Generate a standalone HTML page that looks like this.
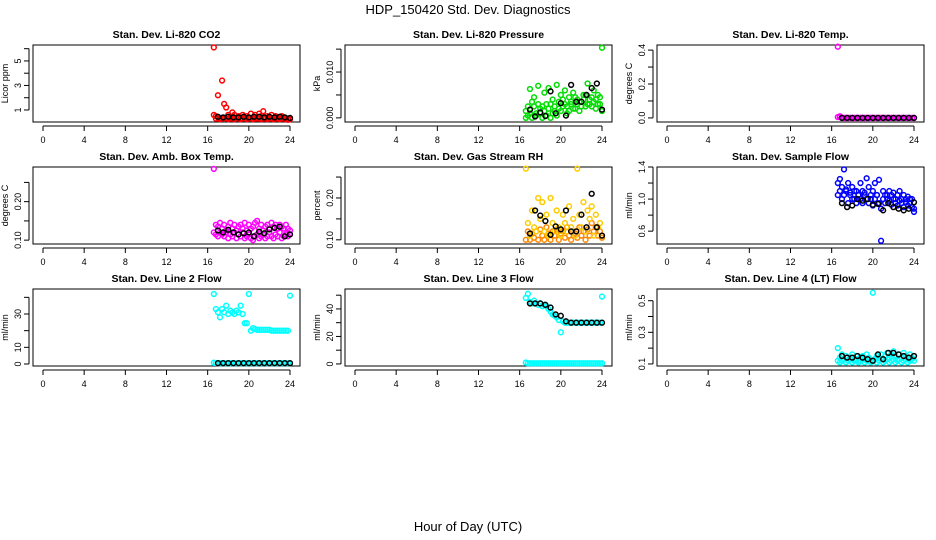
<!DOCTYPE html>
<html><head><meta charset="utf-8"><style>
html,body{margin:0;padding:0;background:#fff;}
svg{display:block;font-family:"Liberation Sans",Arial,sans-serif;}
</style></head><body>
<svg id="chart" width="936" height="540" viewBox="0 0 936 540" xmlns="http://www.w3.org/2000/svg">
<text x="468" y="14" text-anchor="middle" font-size="13">HDP_150420  Std. Dev. Diagnostics</text>
<text x="468" y="531" text-anchor="middle" font-size="13">Hour of Day (UTC)</text>
</svg>
<script>
const hours = [16.6,16.8,17.0,17.2,17.4,17.6,17.8,18.0,18.2,18.4,18.6,18.8,19.0,19.2,19.4,19.6,19.8,20.0,20.2,20.4,20.6,20.8,21.0,21.2,21.4,21.6,21.8,22.0,22.2,22.4,22.6,22.8,23.0,23.2,23.4,23.6,23.8,24.0];
const blackHours = [17.0,17.5,18.0,18.5,19.0,19.5,20.0,20.5,21.0,21.5,22.0,22.5,23.0,23.5,24.0];
const xTicks = [0,4,8,12,16,20,24];

const co2A = [6.1,0.5,2.2,0.3,3.4,1.5,1.2,0.6,0.3,0.8,0.6,0.4,0.5,0.3,0.6,0.4,0.5,0.3,0.7,0.4,0.6,0.3,0.7,0.5,0.9,0.3,0.5,0.4,0.6,0.3,0.5,0.4,0.3,0.5,0.4,0.3,0.2,0.3];
const co2B = [0.6,0.3,0.4,0.25,0.3,0.35,0.3,0.25,0.4,0.3,0.25,0.35,0.3,0.25,0.3,0.35,0.25,0.3,0.35,0.25,0.3,0.35,0.3,0.25,0.3,0.35,0.25,0.3,0.35,0.25,0.3,0.35,0.25,0.3,0.35,0.25,0.3,0.25];
const co2K = [0.45,0.4,0.45,0.4,0.4,0.45,0.4,0.45,0.45,0.4,0.45,0.4,0.45,0.4,0.35];

const presA = [0,0.0025,0.0063,0,0.0045,0.001,0.007,0.002,0,0.0055,0.003,0.0065,0,0.004,0.0015,0.0072,0.0035,0.005,0.0025,0.006,0.001,0.0045,0.003,0.0055,0.002,0.004,0.0015,0.0035,0.005,0.0025,0.0075,0.003,0.0045,0.006,0.002,0.005,0.003,0.0153];
const presB = [0.0015,0.0005,0.001,0.0035,0.0025,0.0005,0.003,0.001,0.0025,0.0015,0.0005,0.002,0.003,0.001,0.0025,0.0005,0.002,0.0015,0.004,0.003,0.0025,0.0015,0.0035,0.002,0.0045,0.003,0.0035,0.0025,0.004,0.005,0.003,0.004,0.0025,0.0035,0.004,0.003,0.0045,0.0015];
const presK = [0.0018,0.0003,0.0012,0.0004,0.0058,0.001,0.0032,0.0005,0.0072,0.0035,0.0035,0.005,0.0065,0.0075,0.0018];

const tempA = [0.42,0.01,0,0,0,0,0,0,0,0,0,0,0,0,0,0,0,0,0,0,0,0,0,0,0,0,0,0,0,0,0,0,0,0,0,0,0,0];
const tempB = [0.005,0.005,0,0,0,0,0,0,0,0,0,0,0,0,0,0,0,0,0,0,0,0,0,0,0,0,0,0,0,0,0,0,0,0,0,0,0,0];
const tempK = [0,0,0,0,0,0,0,0,0,0,0,0,0,0,0];

const ambA = [0.285,0.14,0.135,0.145,0.13,0.14,0.125,0.135,0.145,0.13,0.14,0.125,0.135,0.14,0.13,0.145,0.125,0.14,0.13,0.135,0.145,0.15,0.13,0.14,0.125,0.135,0.14,0.13,0.145,0.135,0.14,0.13,0.14,0.135,0.13,0.14,0.13,0.125];
const ambB = [0.12,0.115,0.11,0.12,0.115,0.11,0.12,0.105,0.115,0.11,0.12,0.105,0.115,0.11,0.12,0.105,0.11,0.115,0.105,0.1,0.11,0.115,0.105,0.11,0.115,0.105,0.11,0.12,0.11,0.105,0.115,0.11,0.12,0.105,0.11,0.115,0.11,0.115];
const ambK = [0.125,0.12,0.127,0.12,0.115,0.118,0.12,0.11,0.122,0.118,0.128,0.132,0.135,0.11,0.115];

const rhA = [0.27,0.14,0.11,0.17,0.13,0.12,0.2,0.15,0.19,0.12,0.16,0.11,0.2,0.14,0.12,0.17,0.13,0.11,0.16,0.14,0.12,0.18,0.13,0.15,0.11,0.27,0.16,0.13,0.19,0.12,0.17,0.15,0.18,0.11,0.16,0.13,0.14,0.11];
const rhB = [0.1,0.12,0.1,0.115,0.105,0.12,0.1,0.125,0.11,0.1,0.13,0.115,0.1,0.12,0.11,0.125,0.1,0.115,0.12,0.105,0.13,0.11,0.1,0.12,0.115,0.105,0.13,0.11,0.12,0.1,0.125,0.11,0.14,0.12,0.13,0.11,0.12,0.105];
const rhK = [0.115,0.17,0.158,0.145,0.112,0.132,0.125,0.17,0.12,0.12,0.16,0.13,0.21,0.13,0.11];

const flowA = [1.2,1.25,1.15,1.37,1.1,1.2,1.05,1.15,1.0,1.1,1.05,1.2,1.1,1.05,1.26,1.15,1.0,1.1,1.2,1.05,1.24,0.48,1.1,1.05,1.0,1.1,1.05,1.08,1.0,1.05,1.1,1.0,1.05,1.0,1.03,1.0,1.0,0.84];
const flowB = [1.05,1.1,1.0,1.05,1.12,0.95,1.08,1.0,1.1,0.95,1.05,1.0,0.95,1.08,1.0,0.95,1.05,0.92,1.0,1.05,0.95,0.88,1.0,0.95,1.05,0.98,0.93,1.0,0.95,0.92,0.98,0.95,0.9,0.96,0.92,0.95,0.9,0.88];
const flowK = [0.95,0.9,0.92,1.0,0.98,1.0,0.93,0.94,0.86,0.95,0.9,0.88,0.86,0.88,0.96];

const l2A = [42,33,31,28,33,31,35,30,32,31,30,32,31,35,30,24.5,24.5,42,20,21.5,21,20.5,20.5,20.5,20.5,20.5,20.5,20.5,20,20,20,20,20,20,20,20,20,41];
const l2B = [0.8,0.6,0.5,0.5,0.5,0.5,0.5,0.5,0.5,0.5,0.5,0.5,0.5,0.5,0.5,0.5,0.5,0.5,0.5,0.5,0.5,0.5,0.5,0.5,0.5,0.5,0.5,0.5,0.5,0.5,0.5,0.5,0.5,0.5,0.5,0.5,0.5,0.5];
const l2K = [0.5,0.5,0.5,0.5,0.5,0.5,0.5,0.5,0.5,0.5,0.5,0.5,0.5,0.5,0.5];

const l3A = [1,0.5,0.5,0.5,0.5,0.5,0.5,0.5,0.5,0.5,0.5,0.5,0.5,0.5,0.5,0.5,0.5,0.5,0.5,0.5,0.5,0.5,0.5,0.5,0.5,0.5,0.5,0.5,0.5,0.5,0.5,0.5,0.5,0.5,0.5,0.5,0.5,0.5];
const l3B = [48,51,45,44,46,44,43,44,42,43,42,40,38,36,35,34,32,23,31,30,30,30,30,30,30,30,30,30,30,30,30,30,30,30,30,30,30,49];
const l3K = [44,44,44,43,41,36,35,31,30,30,30,30,30,30,30];

const l4A = [0.2,0.14,0.16,0.13,0.15,0.12,0.14,0.16,0.13,0.15,0.12,0.14,0.15,0.13,0.16,0.14,0.12,0.55,0.13,0.15,0.14,0.16,0.13,0.15,0.17,0.14,0.16,0.18,0.15,0.13,0.16,0.14,0.17,0.15,0.13,0.16,0.14,0.15];
const l4B = [0.12,0.11,0.12,0.13,0.11,0.12,0.13,0.11,0.12,0.13,0.11,0.12,0.13,0.11,0.12,0.13,0.11,0.12,0.13,0.11,0.12,0.13,0.11,0.12,0.13,0.11,0.12,0.13,0.11,0.12,0.13,0.11,0.12,0.13,0.11,0.12,0.13,0.12];
const l4K = [0.15,0.14,0.14,0.15,0.14,0.13,0.12,0.16,0.13,0.17,0.17,0.16,0.15,0.14,0.15];

const NS = "http://www.w3.org/2000/svg";
const svg = document.getElementById('chart');
function mk(tag, attrs, parent){
  const e = document.createElementNS(NS, tag);
  for (const k in attrs) e.setAttribute(k, attrs[k]);
  (parent||svg).appendChild(e);
  return e;
}
const colX = [33, 345, 657], rowY = [45, 167, 289], W = 267, H = 77;

function panel(col,row,title,ylab,ymin,ymax,ticks,labels,series,key){
  const L = colX[col], T = rowY[row];
  const g = mk('g', {});
  
  
  const xs = h => L + 10 + h * (247/24);
  const ys = v => T + H - (v - ymin) / (ymax - ymin) * H;
  const t = mk('text', {x: L + W/2, y: T - 7, 'text-anchor':'middle', 'font-size':'10.5', 'font-weight':'bold'}, g);
  t.textContent = title;
  
  
  const b = mk('rect', {x:L, y:T, width:W, height:H, fill:'none', stroke:'#000', 'stroke-width':'1'}, g);
  
  
  const xa = mk('g', {}, g);
  
  
  mk('line', {x1:xs(0), x2:xs(24), y1:T+H+4, y2:T+H+4, stroke:'#000'}, xa);
  xTicks.forEach(h => {
    mk('line', {x1:xs(h), x2:xs(h), y1:T+H+4, y2:T+H+9, stroke:'#000'}, xa);
    const tl = mk('text', {x:xs(h), y:T+H+21, 'text-anchor':'middle', 'font-size':'9'}, xa);
    tl.textContent = h;
  });
  const ya = mk('g', {}, g);
  
  
  mk('line', {x1:L-4, x2:L-4, y1:ys(ticks[0]), y2:ys(ticks[ticks.length-1]), stroke:'#000'}, ya);
  ticks.forEach(v => {
    mk('line', {x1:L-4, x2:L-9, y1:ys(v), y2:ys(v), stroke:'#000'}, ya);
  });
  labels.forEach(v => {
    const tl = mk('text', {x:0, y:0, 'text-anchor':'middle', 'font-size':'9', transform:`translate(${L-12},${ys(v[0])}) rotate(-90)`}, ya);
    tl.textContent = v[1];
  });
  const yl = mk('text', {x:0,y:0,'text-anchor':'middle','font-size':'9',transform:`translate(${L-25},${T+H/2}) rotate(-90)`}, g);
  yl.textContent = ylab;
  
  
  series.forEach(s => {
    const sg = mk('g', {}, g);
    
    
    s.vals.forEach((v,i) => {
      if (s.x[i] === undefined) return;
      const c = mk('circle', {cx:xs(s.x[i]), cy:ys(v), r:2.4, fill:'none', stroke:s.c, 'stroke-width':'1.5'}, sg);
      
      
    });
  });
}
const S = (name,x,vals,c)=>({name,x,vals,c});

panel(0,0,'Stan. Dev. Li-820 CO2','Licor ppm',0.02,6.3,[1,2,3,4,5,6],[[1,'1'],[3,'3'],[5,'5']],
 [S('series-b',hours,co2B,'#f00'),S('series-a',hours,co2A,'#f00'),S('hourly-series',blackHours,co2K,'#000')],'co2');
panel(1,0,'Stan. Dev. Li-820 Pressure','kPa',-0.0009,0.0159,[0,0.005,0.01,0.015],[[0,'0.000'],[0.01,'0.010']],
 [S('series-b',hours,presB,'#0d0'),S('series-a',hours,presA,'#0d0'),S('hourly-series',blackHours,presK,'#000')],'pressure');
panel(2,0,'Stan. Dev. Li-820 Temp.','degrees C',-0.024,0.43,[0,0.1,0.2,0.3,0.4],[[0,'0.0'],[0.2,'0.2'],[0.4,'0.4']],
 [S('series-b',hours,tempB,'#f0f'),S('series-a',hours,tempA,'#f0f'),S('hourly-series',blackHours,tempK,'#000')],'temp');
panel(0,1,'Stan. Dev. Amb. Box Temp.','degrees C',0.09,0.29,[0.1,0.15,0.2,0.25],[[0.1,'0.10'],[0.2,'0.20']],
 [S('series-b',hours,ambB,'#f0f'),S('series-a',hours,ambA,'#f0f'),S('hourly-series',blackHours,ambK,'#000')],'amb-box-temp');
panel(1,1,'Stan. Dev. Gas Stream RH','percent',0.09,0.274,[0.1,0.15,0.2,0.25],[[0.1,'0.10'],[0.2,'0.20']],
 [S('series-b',hours,rhB,'#f80'),S('series-a',hours,rhA,'#fc0'),S('hourly-series',blackHours,rhK,'#000')],'gas-rh');
panel(2,1,'Stan. Dev. Sample Flow','ml/min',0.44,1.4,[0.6,0.8,1.0,1.2,1.4],[[0.6,'0.6'],[1.0,'1.0'],[1.4,'1.4']],
 [S('series-b',hours,flowB,'#00f'),S('series-a',hours,flowA,'#00f'),S('hourly-series',blackHours,flowK,'#000')],'sample-flow');
panel(0,2,'Stan. Dev. Line 2 Flow','ml/min',-1.2,45,[0,10,20,30,40],[[0,'0'],[10,'10'],[30,'30']],
 [S('series-b',hours,l2B,'#0ff'),S('series-a',hours,l2A,'#0ff'),S('hourly-series',blackHours,l2K,'#000')],'line2-flow');
panel(1,2,'Stan. Dev. Line 3 Flow','ml/min',-1.5,54.5,[0,10,20,30,40,50],[[0,'0'],[20,'20'],[40,'40']],
 [S('series-a',hours,l3A,'#0ff'),S('series-b',hours,l3B,'#0ff'),S('hourly-series',blackHours,l3K,'#000')],'line3-flow');
panel(2,2,'Stan. Dev. Line 4 (LT) Flow','ml/min',0.087,0.574,[0.1,0.2,0.3,0.4,0.5],[[0.1,'0.1'],[0.3,'0.3'],[0.5,'0.5']],
 [S('series-b',hours,l4B,'#0ff'),S('series-a',hours,l4A,'#0ff'),S('hourly-series',blackHours,l4K,'#000')],'line4-flow');
</script>
</body></html>
